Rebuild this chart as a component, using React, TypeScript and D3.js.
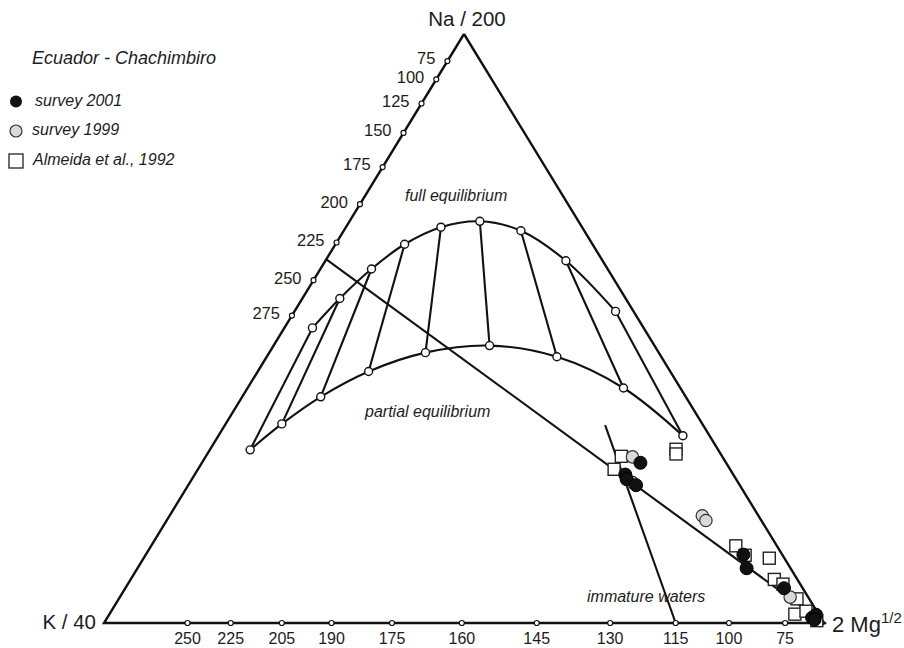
import React, { useEffect, useRef } from 'react';
import * as d3 from 'd3';

// ternary values are [Na/200, K/40, 2 Mg^1/2] in percent
const naKTemps = [75, 100, 125, 150, 175, 200, 225, 250, 275];
const naKTickNa = [95.4, 92.3, 88.2, 83.2, 77.4, 71.1, 64.6, 58.2, 52.2];

const kMgTemps = [250, 225, 205, 190, 175, 160, 145, 130, 115, 100, 75];
const kMgTickMg = [11.6, 17.6, 24.7, 31.6, 40.0, 49.7, 60.1, 70.3, 79.4, 86.8, 94.6];

// full equilibrium, 275 -> 75 °C
const fullEquilibrium = [
    [50.1, 46.0, 3.9], [55.1, 39.7, 5.2], [60.1, 32.8, 7.1], [64.3, 26.1, 9.6], [67.2, 19.6, 13.2],
    [68.2, 13.7, 18.1], [66.6, 8.8, 24.6], [61.5, 5.1, 33.4], [52.9, 2.5, 44.6],
];
// partial equilibrium, same temperatures
const partialEquilibrium = [
    [29.4, 65.0, 5.6], [33.8, 58.4, 7.8], [38.4, 50.7, 10.9], [42.7, 41.9, 15.4], [45.9, 32.4, 21.7],
    [47.1, 22.9, 30.0], [45.2, 14.5, 40.3], [39.9, 7.9, 52.2], [31.8, 3.7, 64.5],
];

const mixingLine = [[61.75, 38.25, 0], [0, 0, 100]];
const immatureLine = [[0, 20.6, 79.4], [33.6, 13.6, 52.8]];

const almeida1992 = [
    [28.3, 14.0, 57.7], [26.1, 16.1, 57.8], [29.5, 5.8, 64.7], [28.7, 6.2, 65.1], [13.1, 5.7, 81.2],
    [11.5, 5.2, 83.3], [11.0, 2.1, 86.9], [7.4, 3.2, 89.4], [6.6, 2.4, 91.0], [4.1, 1.7, 94.2],
    [1.5, 3.3, 95.2], [2.0, 1.5, 96.5], [0.4, 0.8, 98.8],
];
const survey1999 = [
    [28.2, 12.5, 59.3], [23.9, 14.7, 61.4], [18.2, 7.8, 74.0], [17.4, 7.7, 74.9], [4.4, 2.5, 93.1],
];
const survey2001 = [
    [27.2, 11.9, 60.9], [25.2, 15.0, 59.8], [24.4, 15.2, 60.4], [23.4, 14.4, 62.2], [11.6, 5.4, 83.0],
    [9.3, 6.1, 84.6], [5.9, 2.6, 91.5], [0.9, 1.2, 97.9], [1.4, 0.4, 98.2], [0.6, 1.0, 98.4],
];

const legendItems = ['survey 2001', 'survey 1999', 'Almeida et al., 1992'];

const FONT = '"Liberation Sans", Arial, Helvetica, sans-serif';

const Ternary = () => {
    const svgRef = useRef(null);

    useEffect(() => {
        const svg = d3.select(svgRef.current);
        svg.selectAll('*').remove();

        const xs = d3.scaleLinear().domain([0, 100]).range([104, 824]);
        const ys = d3.scaleLinear().domain([0, 100]).range([623, 34]);
        const proj = ([na, k, mg]) => {
            const s = na + k + mg;
            const n = (na / s) * 100;
            const m = (mg / s) * 100;
            return [xs(m + n / 2), ys(n)];
        };
        const line = d3.line().x(d => proj(d)[0]).y(d => proj(d)[1]);
        const curve = d3.line().x(d => proj(d)[0]).y(d => proj(d)[1]).curve(d3.curveCatmullRom.alpha(0.5));

        const ink = '#111';
        const txt = '#1c1c1c';
        const lw = 2.1;

        // triangle
        svg.append('path')
            .attr('d', line([[100, 0, 0], [0, 100, 0], [0, 0, 100], [100, 0, 0]]))
            .attr('fill', 'none').attr('stroke', ink).attr('stroke-width', 2.4)
            .attr('stroke-linejoin', 'miter');

        // arrowhead at Mg corner
        const [mx, my] = proj([0, 0, 100]);
        svg.append('path')
            .attr('d', `M${mx - 5},${my - 4.5} L${mx + 3},${my} L${mx - 5},${my + 4.5} Z`)
            .attr('fill', ink);

        // tie lines between partial and full equilibrium
        partialEquilibrium.forEach((p, i) => {
            svg.append('path').attr('d', line([p, fullEquilibrium[i]]))
                .attr('fill', 'none').attr('stroke', ink).attr('stroke-width', lw);
        });
        svg.append('path').attr('d', curve(fullEquilibrium))
            .attr('fill', 'none').attr('stroke', ink).attr('stroke-width', lw);
        svg.append('path').attr('d', curve(partialEquilibrium))
            .attr('fill', 'none').attr('stroke', ink).attr('stroke-width', lw);

        svg.append('path').attr('d', line(mixingLine))
            .attr('fill', 'none').attr('stroke', ink).attr('stroke-width', lw);
        svg.append('path').attr('d', line(immatureLine))
            .attr('fill', 'none').attr('stroke', ink).attr('stroke-width', lw);

        // curve markers
        svg.append('g').selectAll('circle')
            .data([...fullEquilibrium, ...partialEquilibrium])
            .enter().append('circle')
            .attr('cx', d => proj(d)[0]).attr('cy', d => proj(d)[1])
            .attr('r', 4).attr('fill', '#fff').attr('stroke', ink).attr('stroke-width', 1.4);

        // Na-K ticks on left edge
        const leftG = svg.append('g');
        naKTemps.forEach((t, i) => {
            const [x, y] = proj([naKTickNa[i], 100 - naKTickNa[i], 0]);
            leftG.append('circle').attr('cx', x).attr('cy', y).attr('r', 2.5)
                .attr('fill', '#fff').attr('stroke', ink).attr('stroke-width', 1.2);
            leftG.append('text').attr('x', x - 12).attr('y', y - 1)
                .attr('text-anchor', 'end').attr('dominant-baseline', 'middle')
                .attr('font-family', FONT).attr('font-size', 16.5).attr('fill', txt)
                .text(t);
        });

        // K-Mg ticks on bottom edge
        const botG = svg.append('g');
        kMgTemps.forEach((t, i) => {
            const [x, y] = proj([0, 100 - kMgTickMg[i], kMgTickMg[i]]);
            botG.append('circle').attr('cx', x).attr('cy', y).attr('r', 2.5)
                .attr('fill', '#fff').attr('stroke', ink).attr('stroke-width', 1.2);
            botG.append('text').attr('x', x).attr('y', y + 21)
                .attr('text-anchor', 'middle')
                .attr('font-family', FONT).attr('font-size', 16).attr('fill', txt)
                .text(t);
        });

        // samples
        svg.append('g').selectAll('rect')
            .data(almeida1992).enter().append('rect')
            .attr('x', d => proj(d)[0] - 6).attr('y', d => proj(d)[1] - 6)
            .attr('width', 12).attr('height', 12)
            .attr('fill', '#fff').attr('stroke', '#222').attr('stroke-width', 1.4);
        svg.append('g').selectAll('circle')
            .data(survey1999).enter().append('circle')
            .attr('cx', d => proj(d)[0]).attr('cy', d => proj(d)[1]).attr('r', 6.2)
            .attr('fill', '#d9d9d9').attr('stroke', '#333').attr('stroke-width', 1.2);
        svg.append('g').selectAll('circle')
            .data(survey2001).enter().append('circle')
            .attr('cx', d => proj(d)[0]).attr('cy', d => proj(d)[1]).attr('r', 6.5)
            .attr('fill', '#111').attr('stroke', '#000').attr('stroke-width', 1);

        // vertex labels
        svg.append('text').attr('x', 467).attr('y', 26).attr('text-anchor', 'middle')
            .attr('font-family', FONT).attr('font-size', 20.5).attr('fill', txt).text('Na / 200');
        svg.append('text').attr('x', 96).attr('y', 628.5).attr('text-anchor', 'end')
            .attr('font-family', FONT).attr('font-size', 20.5).attr('fill', txt).text('K / 40');
        const mgLabel = svg.append('text').attr('x', 832).attr('y', 632)
            .attr('font-family', FONT).attr('font-size', 22).attr('fill', txt);
        mgLabel.append('tspan').text('2 Mg');
        mgLabel.append('tspan').attr('dy', -9).attr('font-size', 15).text('1/2');

        // region labels
        const italic = (x, y, s, size) => svg.append('text').attr('x', x).attr('y', y)
            .attr('font-family', FONT).attr('font-style', 'italic').attr('font-size', size)
            .attr('fill', txt).attr('dominant-baseline', 'middle').text(s);
        italic(405, 197, 'full equilibrium', 16);
        italic(365, 413, 'partial equilibrium', 16);
        italic(587, 598, 'immature waters', 16);

        // legend
        italic(32, 59, 'Ecuador - Chachimbiro', 18);
        svg.append('circle').attr('cx', 16).attr('cy', 101.5).attr('r', 6).attr('fill', '#111');
        svg.append('circle').attr('cx', 16).attr('cy', 131).attr('r', 6)
            .attr('fill', '#d9d9d9').attr('stroke', '#333').attr('stroke-width', 1.2);
        svg.append('rect').attr('x', 9).attr('y', 154).attr('width', 14).attr('height', 14)
            .attr('fill', '#fff').attr('stroke', '#222').attr('stroke-width', 1.3);
        italic(35, 102, legendItems[0], 16);
        italic(32, 131, legendItems[1], 16);
        italic(33, 161, legendItems[2], 16);
    }, []);

    return <svg ref={svgRef} width={904} height={648} style={{ position: 'absolute', left: 0, top: 0, background: '#fff' }}></svg>;
};

const App = () => {
    return (
        <div>
            <Ternary />
        </div>
    );
};

export default App;
